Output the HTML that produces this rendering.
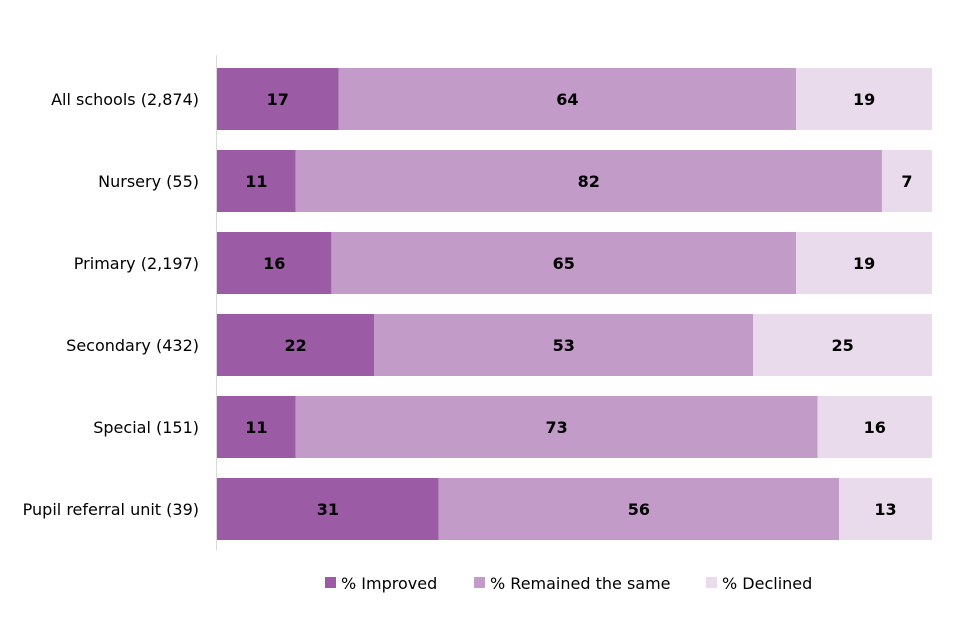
<!DOCTYPE html>
<html><head><meta charset="utf-8"><style>
body{margin:0;background:#fff;}
svg{display:block;font-family:"DejaVu Sans","Liberation Sans",sans-serif;}
</style></head><body>
<svg id="chart" width="960" height="640"></svg>
<script>
const categories=["All schools (2,874)","Nursery (55)","Primary (2,197)","Secondary (432)","Special (151)","Pupil referral unit (39)"];
const improved=[17,11,16,22,11,31];
const same=[64,82,65,53,73,56];
const declined=[19,7,19,25,16,13];
const seriesNames=["% Improved","% Remained the same","% Declined"];
const colors=["#9b5ba5","#c39bc9","#e9dbec"];
const NS="http://www.w3.org/2000/svg";
const svg=document.getElementById('chart');
const x0=217,x1=932,top0=68,band=82,bh=62;
const xs=v=>x0+(x1-x0)*v/100;
const yb=i=>top0+i*band;
function el(t,a,p){const e=document.createElementNS(NS,t);for(const k in a)e.setAttribute(k,a[k]);(p||svg).appendChild(e);return e;}
const axis=el('line',{x1:216.5,x2:216.5,y1:55,y2:550,stroke:'#d9d9d9'});


const series=[improved,same,declined];
categories.forEach((c,i)=>{
  const lab=el('text',{x:199,y:yb(i)+bh/2+6,'text-anchor':'end','font-size':16,fill:'#000'});
  lab.textContent=c;
  
  
  let cum=0;
  series.forEach((s,j)=>{
    const v=s[i];
    const r=el('rect',{x:xs(cum),y:yb(i),width:xs(cum+v)-xs(cum),height:bh,fill:colors[j]});
    
    
    const t=el('text',{x:(xs(cum)+xs(cum+v))/2,y:yb(i)+bh/2+6,'text-anchor':'middle','font-size':16,'font-weight':'bold',fill:'#000'});
    t.textContent=v;
    
    
    cum+=v;
  });
});
const lx=[325,474,706];
seriesNames.forEach((n,j)=>{
  const r=el('rect',{x:lx[j],y:577,width:11,height:11,fill:colors[j]});
  
  
  const t=el('text',{x:lx[j]+16,y:589,'font-size':16,fill:'#000'});
  t.textContent=n;
  
  
});
</script>
</body></html>
